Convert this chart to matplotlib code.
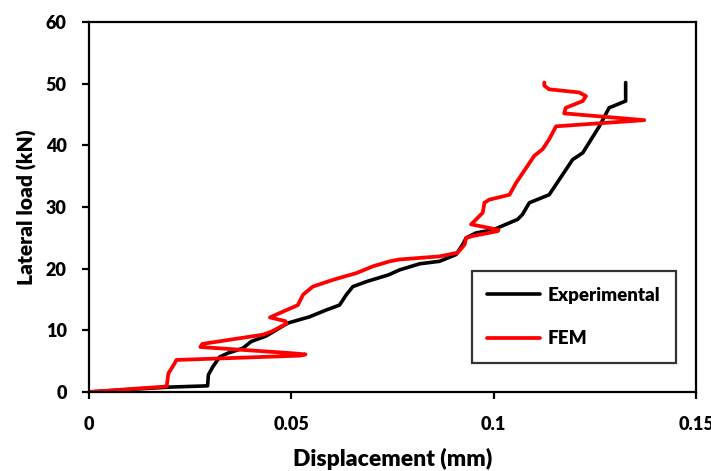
import numpy as np
import matplotlib.pyplot as plt

exp_x = [0.0, 0.012, 0.020, 0.0293, 0.0295, 0.0306, 0.0323, 0.0343, 0.038, 0.0401,
         0.0438, 0.0471, 0.0492, 0.0545, 0.0586, 0.0619, 0.0636, 0.0652, 0.0685,
         0.0740, 0.0767, 0.0817, 0.0866, 0.0907, 0.0923, 0.0932, 0.0956, 0.0998,
         0.1059, 0.1071, 0.1088, 0.1137, 0.1195, 0.122, 0.1261, 0.1285, 0.1326, 0.1326]
exp_y = [0.0, 0.5, 0.8, 1.0, 2.8, 4.1, 5.7, 6.3, 7.1, 8.2,
         9.1, 10.4, 11.2, 12.2, 13.3, 14.1, 15.8, 17.1, 17.9,
         19.0, 19.8, 20.8, 21.2, 22.3, 23.9, 25.0, 25.8, 26.3,
         28.0, 28.8, 30.7, 32.0, 37.7, 38.8, 43.1, 46.1, 47.2, 50.2]

fem_x = [0.0, 0.0192, 0.0196, 0.0212, 0.0216, 0.052, 0.0535, 0.050, 0.0275, 0.028,
         0.031, 0.043, 0.0451, 0.0488, 0.0485, 0.0447, 0.0471, 0.0516, 0.0529,
         0.0553, 0.0603, 0.0661, 0.0702, 0.0743, 0.0767, 0.0866, 0.0911, 0.0928,
         0.0932, 0.0948, 0.101, 0.1012, 0.099, 0.0944, 0.0952, 0.0973, 0.0977,
         0.0989, 0.1039, 0.1055, 0.110, 0.1121, 0.1137, 0.1154, 0.1372, 0.1174,
         0.1178, 0.122, 0.1228, 0.1211, 0.1137, 0.1125, 0.1125]
fem_y = [0.0, 0.9, 3.0, 4.7, 5.2, 5.9, 6.1, 6.3, 7.3, 7.8,
         8.1, 9.3, 9.8, 11.1, 11.5, 12.1, 12.8, 14.1, 15.8,
         17.1, 18.2, 19.3, 20.4, 21.2, 21.5, 22.0, 22.6, 23.9,
         25.0, 25.3, 26.1, 26.3, 26.6, 27.2, 27.7, 29.1, 30.7,
         31.2, 32.0, 33.9, 38.3, 39.4, 41.0, 43.1, 44.1, 45.2,
         46.1, 47.2, 48.0, 48.6, 49.1, 49.7, 50.2]

x_ticks = [0, 0.05, 0.1, 0.15]
x_tick_labels = ['0', '0.05', '0.1', '0.15']
y_ticks = [0, 10, 20, 30, 40, 50, 60]

plt.rcParams['font.family'] = ['Lato', 'DejaVu Sans']
plt.rcParams['font.weight'] = 'heavy'

fig = plt.figure(figsize=(7.11, 4.71), dpi=100)
ax = fig.add_axes([0.1252, 0.1677, 0.8538, 0.7853])

ax.plot(exp_x, exp_y, color='black', lw=2.6, label='Experimental',
        solid_joinstyle='round', solid_capstyle='round')
ax.plot(fem_x, fem_y, color='#ff0000', lw=2.7, label='FEM',
        solid_joinstyle='round', solid_capstyle='round')

ax.set_xlim(0, 0.15)
ax.set_ylim(0, 60)
ax.set_xticks(x_ticks)
ax.set_xticklabels(x_tick_labels)
ax.set_yticks(y_ticks)
for s in ax.spines.values():
    s.set_linewidth(1.6)
ax.tick_params(direction='out', length=5, width=1.6, labelsize=13)
ax.tick_params(axis='x', pad=12)
ax.tick_params(axis='y', pad=11)
for lab in ax.get_xticklabels() + ax.get_yticklabels():
    lab.set_fontweight('heavy')

ax.set_xlabel('Displacement (mm)', fontsize=16.5, fontweight='heavy', labelpad=11)
ax.set_ylabel('Lateral load (kN)', fontsize=15, fontweight='heavy', labelpad=6)

leg = ax.legend(loc='lower right', bbox_to_anchor=(0.967, 0.078), frameon=True,
                fancybox=False, edgecolor='black', fontsize=13.5,
                handlelength=2.8, labelspacing=1.4, borderpad=0.85,
                handletextpad=0.4, borderaxespad=0)
leg.get_frame().set_linewidth(1.6)
for t in leg.get_texts():
    t.set_fontweight('heavy')

plt.savefig('out.png', dpi=100)
